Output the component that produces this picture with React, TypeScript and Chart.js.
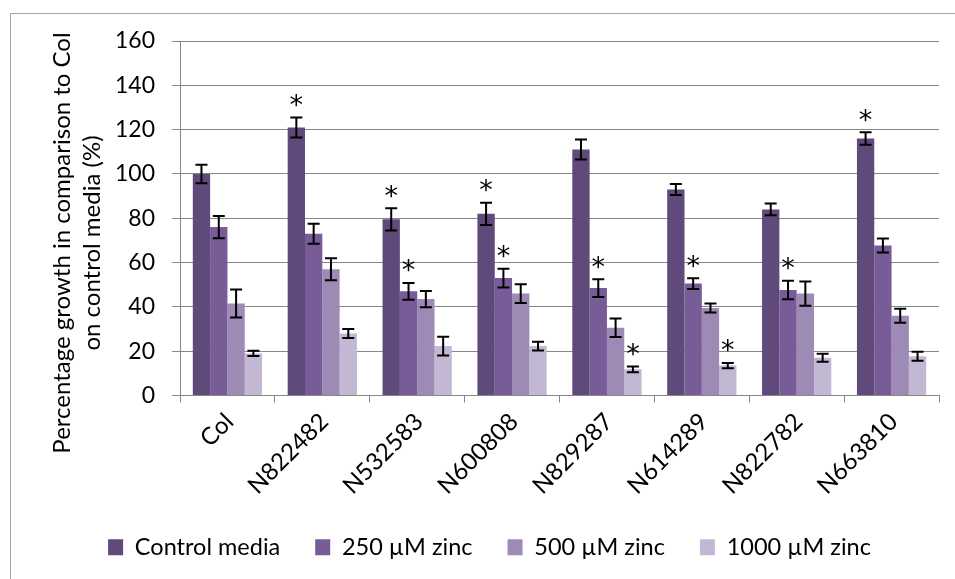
import React, { useEffect, useRef } from "react";
import { Chart, registerables } from "chart.js";

Chart.register(...registerables);

// ---------- data ----------
const categories = ["Col", "N822482", "N532583", "N600808", "N829287", "N614289", "N822782", "N663810"];
const seriesNames = ["Control media", "250 µM zinc", "500 µM zinc", "1000 µM zinc"];

const controlValues = [100, 121, 79.5, 82, 111, 93, 84, 116];
const zinc250Values = [76, 73, 47, 53, 48.5, 50.5, 47.6, 67.7];
const zinc500Values = [41.5, 57, 43.5, 46, 30.6, 39.5, 46, 36];
const zinc1000Values = [19, 28, 22.3, 22.3, 11.8, 13.5, 17, 17.7];

const controlErrors = [4.2, 4.5, 5, 5, 4.5, 2.5, 2.7, 2.8];
const zinc250Errors = [5, 4.5, 3.8, 4.2, 4, 2.4, 4.2, 3.2];
const zinc500Errors = [6.3, 5, 3.7, 4.2, 4.2, 2, 5.5, 3.2];
const zinc1000Errors = [1.2, 2, 4.2, 2, 1.3, 1.2, 1.8, 2];

const controlSignificant = [false, true, true, true, false, false, false, true];
const zinc250Significant = [false, false, true, true, true, true, true, false];
const zinc500Significant = [false, false, false, false, false, false, false, false];
const zinc1000Significant = [false, false, false, false, true, true, false, false];

const yMin = 0;
const yMax = 160;
const yStep = 20;
const yTitleLines = ["Percentage growth in comparison to Col", "on control media (%)"];
const significanceMark = "*";

// ---------- styles ----------
const FONT = "Lato";
const seriesColors = ["#604A7B", "#775C98", "#9D8AB5", "#C3B8D4"];
const gridColor = "#878787";

const allValues = [controlValues, zinc250Values, zinc500Values, zinc1000Values];
const allErrors = [controlErrors, zinc250Errors, zinc500Errors, zinc1000Errors];
const allSignificant = [controlSignificant, zinc250Significant, zinc500Significant, zinc1000Significant];

const borderPlugin = {
  id: "outerBorder",
  beforeDraw(chart: any) {
    const ctx = chart.ctx;
    ctx.save();
    ctx.strokeStyle = "#A6A6A6";
    ctx.lineWidth = 1;
    ctx.beginPath();
    ctx.moveTo(10.5, chart.height);
    ctx.lineTo(10.5, 13.5);
    ctx.lineTo(chart.width, 13.5);
    ctx.stroke();
    ctx.restore();
  },
};

const yTitlePlugin = {
  id: "yTitle",
  afterDraw(chart: any) {
    const ctx = chart.ctx;
    ctx.save();
    ctx.font = `24px ${FONT}`;
    ctx.fillStyle = "#000";
    ctx.textAlign = "center";
    ctx.textBaseline = "alphabetic";
    ctx.translate(70, 243);
    ctx.rotate(-Math.PI / 2);
    ctx.fillText(yTitleLines[0], 0, 0);
    ctx.fillText(yTitleLines[1], 0, 30);
    ctx.restore();
  },
};

const errorBarPlugin = {
  id: "errorBars",
  afterDatasetsDraw(chart: any) {
    const ctx = chart.ctx;
    const yScale = chart.scales.y;
    ctx.save();
    chart.data.datasets.forEach((ds: any, i: number) => {
      const meta = chart.getDatasetMeta(i);
      const errs = allErrors[i];
      const sig = allSignificant[i];
      meta.data.forEach((bar: any, j: number) => {
        const v = ds.data[j];
        const e = errs[j];
        const yt = yScale.getPixelForValue(v + e);
        const yb = yScale.getPixelForValue(v - e);
        const x = bar.x;
        ctx.strokeStyle = "#000";
        ctx.lineWidth = 2;
        ctx.beginPath();
        ctx.moveTo(x, yt);
        ctx.lineTo(x, yb);
        ctx.moveTo(x - 6, yt);
        ctx.lineTo(x + 6, yt);
        ctx.moveTo(x - 6, yb);
        ctx.lineTo(x + 6, yb);
        ctx.stroke();
        if (sig[j]) {
          ctx.font = "27px 'DejaVu Sans'";
          ctx.fillStyle = "#000";
          ctx.textAlign = "center";
          ctx.textBaseline = "alphabetic";
          const m = ctx.measureText(significanceMark);
          const cy = yt - 17;
          ctx.fillText(significanceMark, x, cy + (m.actualBoundingBoxAscent - m.actualBoundingBoxDescent) / 2);
        }
      });
    });
    ctx.restore();
  },
};

export default function App() {
  const canvasRef = useRef<HTMLCanvasElement | null>(null);

  useEffect(() => {
    if (!canvasRef.current) return;
    const chart = new Chart(canvasRef.current, {
      type: "bar",
      data: {
        labels: categories,
        datasets: seriesNames.map((name, i) => ({
          label: name,
          data: allValues[i],
          backgroundColor: seriesColors[i],
          borderWidth: 0,
          categoryPercentage: 0.73,
          barPercentage: 1.0,
        })),
      },
      options: {
        animation: false,
        responsive: false,
        devicePixelRatio: 1,
        layout: { padding: { top: 41, right: 16, bottom: 10, left: 40 } },
        plugins: {
          legend: {
            position: "bottom",
            labels: {
              boxWidth: 15,
              boxHeight: 16,
              padding: 35,
              color: "#000",
              font: { family: FONT, size: 23.5 },
            },
          },
          tooltip: { enabled: false },
          title: { display: false },
        },
        scales: {
          x: {
            grid: { display: true, drawOnChartArea: false, tickLength: 7, color: gridColor, offset: true },
            border: { color: gridColor },
            ticks: {
              color: "#000",
              font: { family: FONT, size: 24 },
              minRotation: 45,
              maxRotation: 45,
              autoSkip: false,
              padding: 5,
              labelOffset: 2,
            },
            afterFit: (s: any) => {
              s.height = 105;
            },
          },
          y: {
            min: yMin,
            max: yMax,
            ticks: {
              stepSize: yStep,
              color: "#000",
              font: { family: FONT, size: 23 },
              padding: 17,
            },
            grid: { color: gridColor, tickLength: 8, lineWidth: 1 },
            border: { color: gridColor },
            afterFit: (s: any) => {
              s.width = 140;
            },
          },
        },
      },
      plugins: [borderPlugin, yTitlePlugin, errorBarPlugin],
    });
    return () => chart.destroy();
  }, []);

  return (
    <div style={{ position: "absolute", left: 0, top: 0, width: 955, height: 579, background: "#fff" }}>
      <canvas ref={canvasRef} width={955} height={579} />
    </div>
  );
}
